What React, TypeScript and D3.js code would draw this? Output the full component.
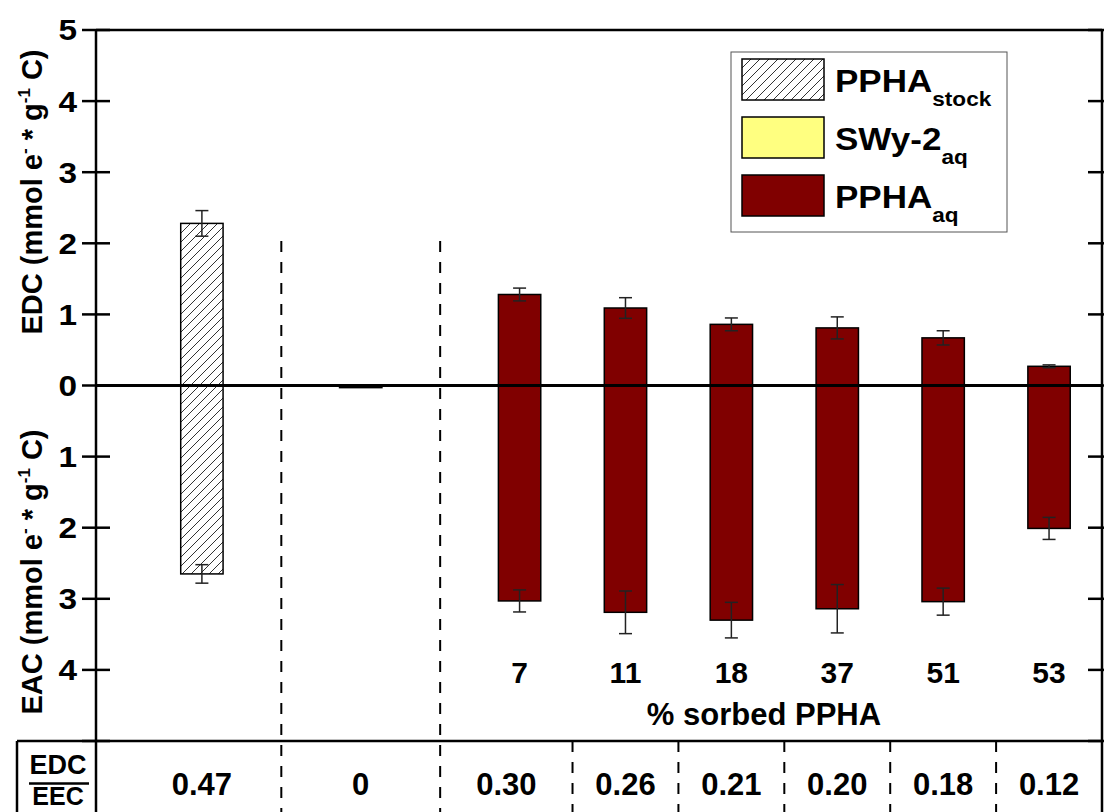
import React from "react";
import * as d3 from "d3";

// ---- data ----
const groupNames = ["PPHA stock", "SWy-2 aq", "7", "11", "18", "37", "51", "53"];
const groupPos = [0, 1.5, 3, 4, 5, 6, 7, 8];
const edcValues = [2.28, 0, 1.28, 1.09, 0.86, 0.81, 0.67, 0.27];
const edcErrors = [0.18, 0, 0.09, 0.145, 0.09, 0.155, 0.1, 0.02];
const eacValues = [2.65, 0.03, 3.03, 3.19, 3.3, 3.14, 3.04, 2.01];
const eacErrors = [0.13, 0, 0.155, 0.3, 0.25, 0.34, 0.19, 0.155];
const sorbedLabels = ["7", "11", "18", "37", "51", "53"];
const ratioLabels = ["0.47", "0", "0.30", "0.26", "0.21", "0.20", "0.18", "0.12"];
const ratioPos = [0, 1.5, 2.875, 4, 5, 6, 7, 8];
const groupDividers = [0.75, 2.25];
const tableDividers = [3.5, 4.5, 5.5, 6.5, 7.5];
const yTickValues = [5, 4, 3, 2, 1, 0, -1, -2, -3, -4, -5];
const yTickLabels = ["5", "4", "3", "2", "1", "0", "1", "2", "3", "4", ""];
const groupKinds = ["stock", "swy", "aq", "aq", "aq", "aq", "aq", "aq"];

const W = 1104;
const H = 812;
const FONT = "'Liberation Sans', Arial, sans-serif";
const RED = "#800000";
const YELLOW = "#FFFF80";

export default function App() {
  const x = d3.scaleLinear().domain([-1, 8.5]).range([96, 1102]);
  const y = d3.scaleLinear().domain([-5, 5]).range([741, 30]);
  const barW = x(0.4) - x(0);
  const capW = 13;
  const fillFor = (k: string) => (k === "stock" ? "url(#hatch)" : k === "swy" ? YELLOW : RED);

  const legendItems = [
    { main: "PPHA", sub: "stock", fill: "url(#hatch)" },
    { main: "SWy-2", sub: "aq", fill: YELLOW },
    { main: "PPHA", sub: "aq", fill: RED },
  ];

  const yTitle = (label: string, cy: number) => (
    <text transform={`translate(42,${cy}) rotate(-90)`} textAnchor="middle" fontSize={29}>
      {label} (mmol e<tspan fontSize={17} dy={-12}>-</tspan><tspan dy={12}> * g</tspan>
      <tspan fontSize={17} dy={-12}>-1</tspan><tspan dy={12}> C)</tspan>
    </text>
  );

  return (
    <svg
      width={W}
      height={H}
      style={{ position: "absolute", left: 0, top: 0, background: "#fff" }}
      fontFamily={FONT}
      fontWeight="bold"
    >
      <defs>
        <pattern id="hatch" patternUnits="userSpaceOnUse" width={9} height={9}>
          <rect width={9} height={9} fill="#fff" />
          <path d="M0,9 L9,0 M-2,2 L2,-2 M7,11 L11,7" stroke="#333" strokeWidth={1} />
        </pattern>
      </defs>
      <rect width={W} height={H} fill="#fff" />

      {/* group dividers (dashed) */}
      {groupDividers.map((d, i) => (
        <line key={"gd" + i} x1={x(d)} x2={x(d)} y1={241} y2={H} stroke="#000" strokeWidth={2} strokeDasharray="11,10" />
      ))}
      {tableDividers.map((d, i) => (
        <line key={"td" + i} x1={x(d)} x2={x(d)} y1={y(-5)} y2={H} stroke="#000" strokeWidth={2} strokeDasharray="11,10" />
      ))}

      {/* bars */}
      {groupPos.map((p, i) => {
        const cx = x(p);
        return (
          <g key={"b" + i}>
            {edcValues[i] > 0 && (
              <rect x={cx - barW / 2} y={y(edcValues[i])} width={barW} height={y(0) - y(edcValues[i])}
                fill={fillFor(groupKinds[i])} stroke="#000" strokeWidth={1.5} />
            )}
            {eacValues[i] > 0 && (
              <rect x={cx - barW / 2} y={y(0)} width={barW} height={y(-eacValues[i]) - y(0)}
                fill={fillFor(groupKinds[i])} stroke="#000" strokeWidth={1.5} />
            )}
          </g>
        );
      })}

      {/* error bars */}
      {groupPos.map((p, i) => {
        const cx = x(p);
        const els: any[] = [];
        if (edcErrors[i] > 0) {
          const t = y(edcValues[i] + edcErrors[i]);
          const b = y(edcValues[i] - edcErrors[i]);
          els.push(<line key="e1" x1={cx} x2={cx} y1={t} y2={b} stroke="#222" strokeWidth={1.5} />);
          els.push(<line key="e2" x1={cx - capW / 2} x2={cx + capW / 2} y1={t} y2={t} stroke="#222" strokeWidth={1.5} />);
          els.push(<line key="e3" x1={cx - capW / 2} x2={cx + capW / 2} y1={b} y2={b} stroke="#222" strokeWidth={1.5} />);
        }
        if (eacErrors[i] > 0) {
          const t = y(-(eacValues[i] - eacErrors[i]));
          const b = y(-(eacValues[i] + eacErrors[i]));
          els.push(<line key="a1" x1={cx} x2={cx} y1={t} y2={b} stroke="#222" strokeWidth={1.5} />);
          els.push(<line key="a2" x1={cx - capW / 2} x2={cx + capW / 2} y1={t} y2={t} stroke="#222" strokeWidth={1.5} />);
          els.push(<line key="a3" x1={cx - capW / 2} x2={cx + capW / 2} y1={b} y2={b} stroke="#222" strokeWidth={1.5} />);
        }
        return <g key={"err" + i}>{els}</g>;
      })}

      {/* zero line */}
      <line x1={x(-1)} x2={x(8.5)} y1={y(0)} y2={y(0)} stroke="#000" strokeWidth={3} />

      {/* frame */}
      <line x1={x(-1)} x2={x(8.5)} y1={y(5)} y2={y(5)} stroke="#000" strokeWidth={2.5} />
      <line x1={x(-1)} x2={x(-1)} y1={y(5)} y2={H} stroke="#000" strokeWidth={2.5} />
      <line x1={x(8.5)} x2={x(8.5)} y1={y(5)} y2={H} stroke="#000" strokeWidth={2.5} />
      {/* table */}
      <line x1={17} x2={x(8.5)} y1={y(-5)} y2={y(-5)} stroke="#000" strokeWidth={2.5} />
      <line x1={17} x2={17} y1={y(-5)} y2={H} stroke="#000" strokeWidth={2.5} />

      {/* y ticks */}
      {yTickValues.map((v, i) => (
        <g key={"yt" + i}>
          <line x1={x(-1) - 14} x2={x(-1) + 14} y1={y(v)} y2={y(v)} stroke="#000" strokeWidth={2.5} />
          <line x1={x(8.5) - 14} x2={x(8.5) + 14} y1={y(v)} y2={y(v)} stroke="#000" strokeWidth={2.5} />
          {yTickLabels[i] && (
            <text transform={`translate(${x(-1) - 19},${y(v)}) scale(1.15,1)`} dy="0.36em" textAnchor="end" fontSize={29}>{yTickLabels[i]}</text>
          )}
        </g>
      ))}

      {/* y titles */}
      {yTitle("EDC", 192)}
      {yTitle("EAC", 572)}

      {/* category labels */}
      {sorbedLabels.map((l, i) => (
        <text key={"cl" + i} x={x(groupPos[i + 2])} y={683} textAnchor="middle" fontSize={30}>{l}</text>
      ))}
      <text x={764} y={725} textAnchor="middle" fontSize={31}>% sorbed PPHA</text>

      {/* table content */}
      <text x={58} y={774} textAnchor="middle" fontSize={27}>EDC</text>
      <line x1={29} x2={89} y1={783.5} y2={783.5} stroke="#000" strokeWidth={2.5} />
      <text x={58} y={805} textAnchor="middle" fontSize={25}>EEC</text>
      {ratioLabels.map((l, i) => (
        <text key={"rl" + i} x={x(ratioPos[i])} y={795} textAnchor="middle" fontSize={31}>{l}</text>
      ))}

      {/* legend */}
      <rect x={731} y={52} width={276} height={180} fill="#fff" stroke="#555" strokeWidth={1} />
      {legendItems.map((it, i) => {
        const top = 59 + i * 58;
        return (
          <g key={"lg" + i}>
            <rect x={742} y={top} width={82} height={41} fill={it.fill} stroke="#000" strokeWidth={1.5} />
            <text transform={`translate(835,${top + 33}) scale(1.13,1)`} fontSize={31}>
              {it.main}
              <tspan fontSize={20} dy={14}>{it.sub}</tspan>
            </text>
          </g>
        );
      })}
    </svg>
  );
}
